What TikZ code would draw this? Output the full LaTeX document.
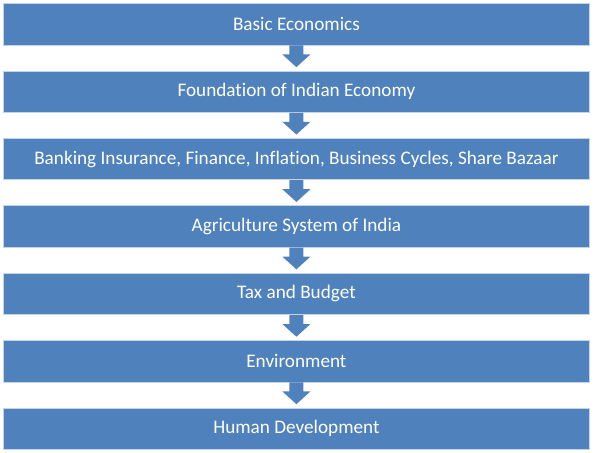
\documentclass[tikz,border=0pt]{standalone}
\usepackage{fontspec}
\setmainfont{Carlito}[Ligatures=CommonOff]
\usetikzlibrary{calc}
\definecolor{boxblue}{HTML}{4F81BD}
\definecolor{edgeblue}{HTML}{C3D3E8}
\begin{document}
\begin{tikzpicture}[x=1pt,y=1pt,
  box/.style={fill=boxblue, draw=edgeblue, line width=0.8pt,
    minimum width=585.5pt, minimum height=41.5pt, inner sep=0pt,
    text=white, font=\fontsize{19.2}{23}\selectfont},
  flowarrow/.style={fill=boxblue}]
\useasboundingbox (0,0) rectangle (596,452);
\node[box] (b0) at (296.4, {452-24.3})  {Basic Economics};
\node[box] (b1) at (296.4, {452-91.7})  {Foundation of Indian Economy};
\node[box] (b2) at (296.4, {452-159.1}) {Banking Insurance, Finance, Inflation, Business Cycles, Share Bazaar};
\node[box] (b3) at (296.4, {452-226.5}) {Agriculture System of India};
\node[box] (b4) at (296.4, {452-293.9}) {Tax and Budget};
\node[box] (b5) at (296.4, {452-361.3}) {Environment};
\node[box] (b6) at (296.4, {452-428.7}) {Human Development};
\foreach \a/\b in {b0/b1,b1/b2,b2/b3,b3/b4,b4/b5,b5/b6}{
  \fill[flowarrow] ($(\a.south)+(-7,0)$) -- ($(\a.south)+(7,0)$)
    -- ($(\a.south)+(7,-9)$) -- ($(\a.south)+(14,-9)$)
    -- ($(\b.north)+(0,3.4)$)
    -- ($(\a.south)+(-14,-9)$) -- ($(\a.south)+(-7,-9)$) -- cycle;
}
\end{tikzpicture}
\end{document}
